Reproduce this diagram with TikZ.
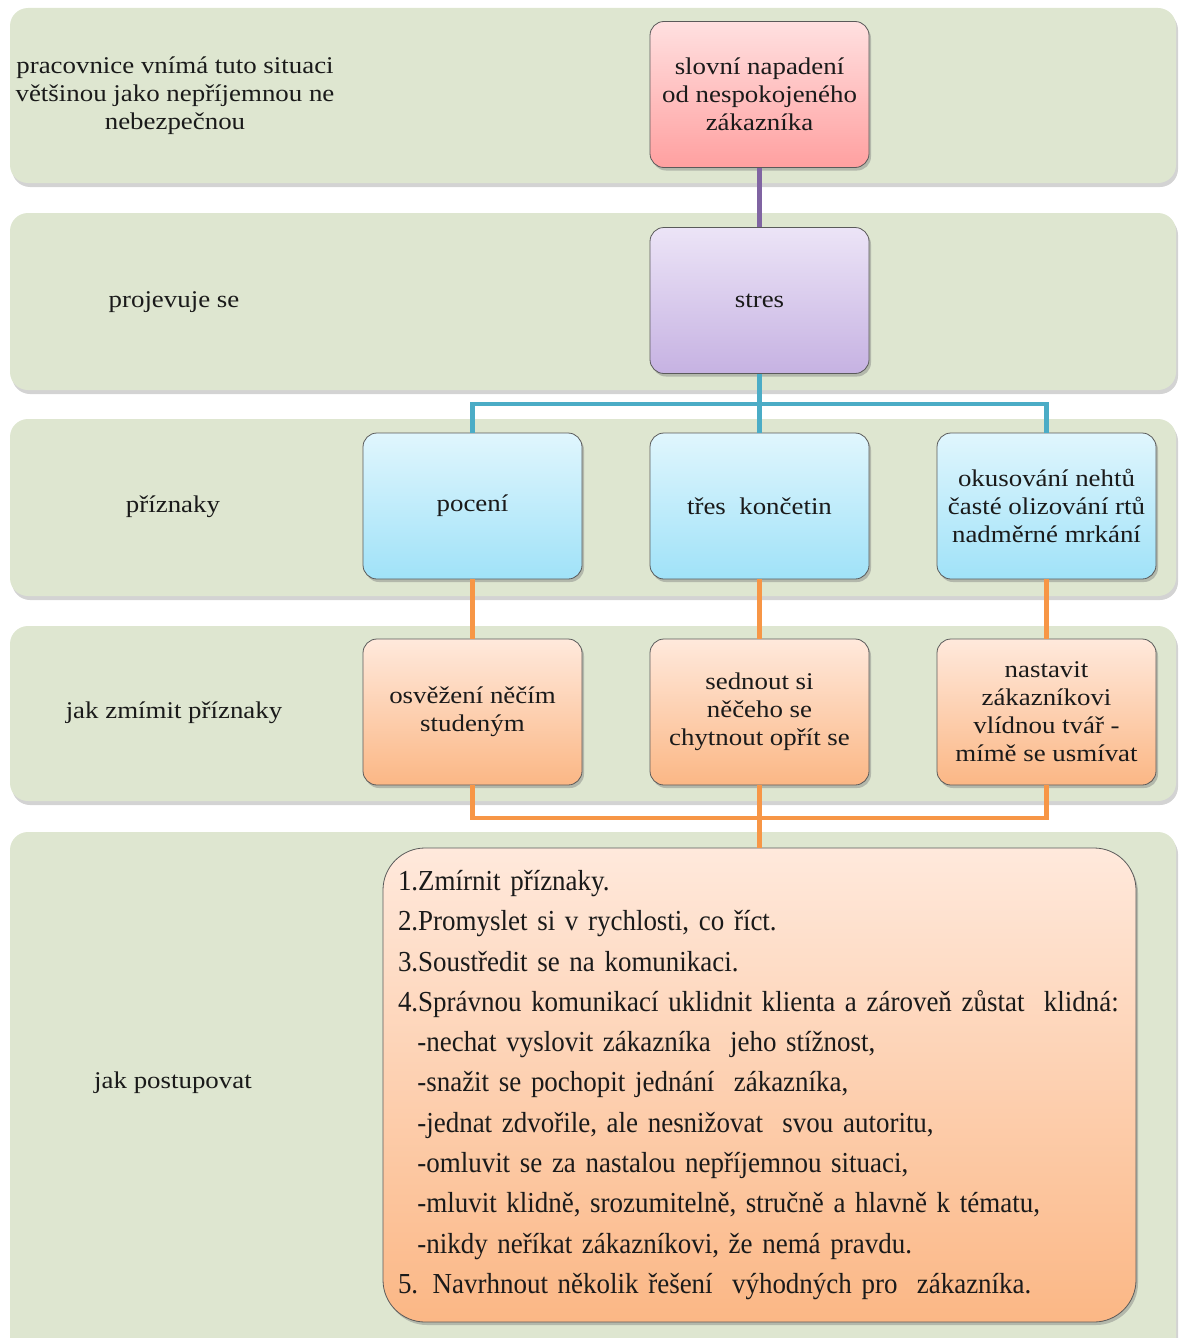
\documentclass[tikz,border=0pt]{standalone}
\usepackage{fontspec}
\setmainfont{Liberation Serif}
\newfontfamily\widefont{Liberation Serif}[FakeStretch=1.12]
\newfontfamily\narrowfont{Liberation Serif}[FakeStretch=0.93]
\usetikzlibrary{shadows,calc}

\definecolor{bandfill}{HTML}{DEE6D0}
\definecolor{pinktop}{HTML}{FFE0E0}
\definecolor{pinkbot}{HTML}{FFA0A0}
\definecolor{purtop}{HTML}{ECE4F7}
\definecolor{purbot}{HTML}{C6B2E2}
\definecolor{bluetop}{HTML}{E0F6FD}
\definecolor{bluebot}{HTML}{A0E2F8}
\definecolor{orgtop}{HTML}{FFE9DC}
\definecolor{orgbot}{HTML}{FBB785}
\definecolor{boxline}{HTML}{5A5A5A}
\definecolor{purline}{HTML}{8064A2}
\definecolor{tealline}{HTML}{4BACC6}
\definecolor{orgline}{HTML}{F79646}
\definecolor{txt}{HTML}{1A1A1A}

\tikzset{
  band/.style={fill=bandfill, rounded corners=18pt,
    drop shadow={shadow xshift=2pt, shadow yshift=-4pt, opacity=0.35}},
  lbl/.style={align=center, font=\widefont\fontsize{24}{28}\selectfont, text=txt},
  card/.style={draw=boxline, line width=0.8pt, rounded corners=14pt,
    minimum width=219pt, minimum height=146pt, align=center,
    font=\widefont\fontsize{24}{28}\selectfont, text=txt, inner sep=4pt,
    drop shadow={shadow xshift=2pt, shadow yshift=-3pt, opacity=0.45}},
  pinkcard/.style={card, top color=pinktop, bottom color=pinkbot},
  purcard/.style={card, top color=purtop, bottom color=purbot},
  bluecard/.style={card, top color=bluetop, bottom color=bluebot},
  orgcard/.style={card, top color=orgtop, bottom color=orgbot},
  link/.style={line width=4.5pt},
}

\begin{document}
\begin{tikzpicture}[x=1pt, y=-1pt]
\useasboundingbox (0,0) rectangle (1178,1338);

% horizontal bands
\path[band] (10,8) rectangle (1176,183);
\path[band] (10,213) rectangle (1176,390);
\path[band] (10,419) rectangle (1176,596);
\path[band] (10,626) rectangle (1176,801);
\path[band] (10,832) rectangle (1176,1360);

% row captions
\node[lbl] (c1) at (175,96) {pracovnice vnímá tuto situaci\\většinou jako nepříjemnou ne\\nebezpečnou};
\node[lbl] (c2) at (174,302) {projevuje se};
\node[lbl] (c3) at (173,507) {příznaky};
\node[lbl] (c4) at (174,713) {jak zmímit příznaky};
\node[lbl] (c5) at (173,1083) {jak postupovat};

% connector buses
\coordinate (busA) at (0,404);
\coordinate (busB) at (0,818);

% cards
\node[pinkcard] (attack) at (759.5,94.5) {slovní napadení\\od nespokojeného\\zákazníka};
\node[purcard] (stress) at (759.5,300.5) {stres};

\node[bluecard] (s1) at (472.5,506) {pocení};
\node[bluecard] (s2) at (759.5,506) {třes\ \ končetin};
\node[bluecard] (s3) at (1046.5,506) {okusování nehtů\\časté olizování rtů\\nadměrné mrkání};

\node[orgcard] (r1) at (472.5,712) {osvěžení něčím\\studeným};
\node[orgcard] (r2) at (759.5,712) {sednout si\\něčeho se\\chytnout opřít se};
\node[orgcard] (r3) at (1046.5,712) {nastavit\\zákazníkovi\\vlídnou tvář -\\mímě se usmívat};

\node[card, top color=orgtop, bottom color=orgbot, rounded corners=42pt,
  minimum width=753pt, minimum height=474pt, text width=723pt,
  align=left, inner xsep=15pt,
  font=\narrowfont\fontsize{29}{40.3}\selectfont] (steps) at (759.5,1085)
{1.Zmírnit příznaky.\\
2.Promyslet si v rychlosti, co říct.\\
3.Soustředit se na komunikaci.\\
4.Správnou komunikací uklidnit klienta a zároveň zůstat\ \ klidná:\\
\ \ -nechat vyslovit zákazníka\ \ jeho stížnost,\\
\ \ -snažit se pochopit jednání\ \ zákazníka,\\
\ \ -jednat zdvořile, ale nesnižovat\ \ svou autoritu,\\
\ \ -omluvit se za nastalou nepříjemnou situaci,\\
\ \ -mluvit klidně, srozumitelně, stručně a hlavně k tématu,\\
\ \ -nikdy neříkat zákazníkovi, že nemá pravdu.\\
5. Navrhnout několik řešení\ \ výhodných pro\ \ zákazníka.};

% attack -> stress
\draw[link, purline] (attack.south) -- (stress.north);

% stress -> symptoms
\draw[link, tealline] (stress.south) -- (s2.north);
\draw[link, tealline] (s1.north) -- (s1.north |- busA) -- (s3.north |- busA) -- (s3.north);

% symptoms -> relief
\draw[link, orgline] (s1.south) -- (r1.north);
\draw[link, orgline] (s2.south) -- (r2.north);
\draw[link, orgline] (s3.south) -- (r3.north);

% relief -> procedure
\draw[link, orgline] (r1.south) -- (r1.south |- busB) -- (r3.south |- busB) -- (r3.south);
\draw[link, orgline] (r2.south) -- (steps.north);
\end{tikzpicture}
\end{document}
